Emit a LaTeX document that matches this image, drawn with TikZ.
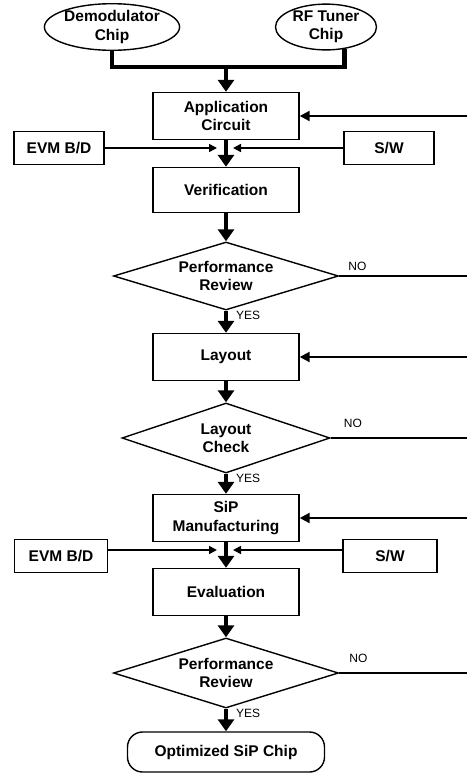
\documentclass[tikz,border=0pt]{standalone}
\usepackage{fontspec}
\setmainfont{Liberation Sans}
\usetikzlibrary{shapes.geometric,arrows.meta,positioning}
\begin{document}
\begin{tikzpicture}[x=1pt,y=-1pt,
    every node/.style={font=\bfseries\fontsize{15.5}{18.5}\selectfont, align=center, inner sep=0pt},
    chip/.style={draw, line width=1.4pt, ellipse, minimum height=45pt},
    block/.style={draw, line width=1.4pt, minimum width=146pt, minimum height=47pt},
    tool/.style={draw, line width=1.4pt, minimum width=90pt, minimum height=33pt},
    decision/.style={draw, line width=1.4pt, diamond, aspect=3.3, minimum width=225pt, minimum height=68pt},
    final/.style={draw, line width=1.4pt, rounded corners=15pt, minimum width=197pt, minimum height=40pt},
    answer/.style={font=\fontsize{12}{14}\selectfont, anchor=west},
    flow/.style={line width=4.5pt, -{Triangle[length=12pt,width=16pt]}},
    side/.style={line width=1.6pt, -{Triangle[length=8pt,width=8pt]}},
    back/.style={line width=2.2pt, -{Triangle[length=10pt,width=10pt]}},
    miss/.style={line width=2.2pt}]
  \useasboundingbox (0,0) rectangle (467,774);
  \coordinate (edge) at (467,0);
  % inputs
  \node [chip, minimum width=135pt] (demod) at (112,27) {Demodulator\\Chip};
  \node [chip, minimum width=101pt] (rf) at (326,27) {RF Tuner\\Chip};
  \coordinate (join) at (226,67);
  % design stage
  \node [block] (app) at (226,116) {Application\\Circuit};
  \node [tool] (evm1) at (59,148) {EVM B/D};
  \node [tool] (sw1) at (389,148) {S/W};
  \node [block, minimum height=45pt] (verify) at (226,190) {Verification};
  \node [decision] (rev1) at (226,276) {Performance\\Review};
  \node [block] (layout) at (226,357) {Layout};
  \node [decision, minimum width=208pt, minimum height=70pt] (check) at (226,438) {Layout\\Check};
  % manufacturing stage
  \node [block] (sip) at (226,518) {SiP\\Manufacturing};
  \node [tool, minimum width=93pt] (evm2) at (61,556) {EVM B/D};
  \node [tool, minimum width=94pt] (sw2) at (390,556) {S/W};
  \node [block] (eval) at (226,592) {Evaluation};
  \node [decision, minimum height=70pt] (rev2) at (226,673) {Performance\\Review};
  \node [final] (chip) at (226,752) {Optimized SiP Chip};
  % answers
  \node [answer] (yes1) at ([shift={(10pt,-5pt)}]rev1.south) {YES};
  \node [answer] (no1) at ([shift={(9pt,10pt)}]rev1.east) {NO};
  \node [answer] (yes2) at ([shift={(10pt,-5pt)}]check.south) {YES};
  \node [answer] (no2) at ([shift={(13pt,15pt)}]check.east) {NO};
  \node [answer] (yes3) at ([shift={(10pt,-5pt)}]rev2.south) {YES};
  \node [answer] (no3) at ([shift={(10pt,15pt)}]rev2.east) {NO};
  % main flow
  \draw [line width=4.5pt] (demod.south) |- (join) -| (rf.-50);
  \draw [flow] (join) -- (app);
  \draw [flow] (app) -- (verify);
  \draw [flow] (verify) -- (rev1);
  \draw [flow] (rev1) -- (layout);
  \draw [flow] (layout) -- (check);
  \draw [flow] (check) -- (sip);
  \draw [flow] (sip) -- (eval);
  \draw [flow] (eval) -- (rev2);
  \draw [flow] (rev2) -- (chip);
  % boards and software
  \draw [side, shorten >=9pt] (evm1) -- (evm1 -| app.south);
  \draw [side, shorten >=7pt] (sw1) -- (sw1 -| app.south);
  \draw [side, shorten >=9pt] ([yshift=6pt]evm2.east) -- ([yshift=6pt]evm2.east -| sip.south);
  \draw [side, shorten >=7pt] ([yshift=6pt]sw2.west) -- ([yshift=6pt]sw2.west -| sip.south);
  % feedback
  \draw [back] (app.east -| edge) -- (app);
  \draw [back] (layout.east -| edge) -- (layout);
  \draw [back] (sip.east -| edge) -- (sip);
  \draw [miss] (rev1) -- (rev1.east -| edge);
  \draw [miss] (check) -- (check.east -| edge);
  \draw [miss] (rev2) -- (rev2.east -| edge);
\end{tikzpicture}
\end{document}
